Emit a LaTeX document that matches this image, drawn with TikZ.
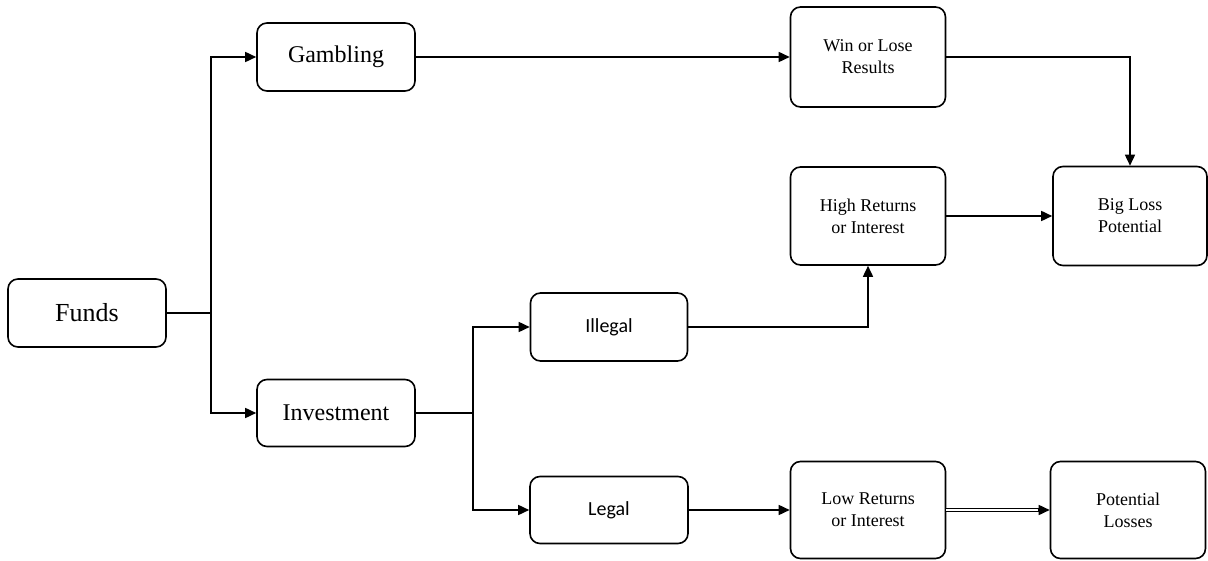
\documentclass[tikz,border=0pt]{standalone}
\usepackage{fontspec}
\setmainfont{Liberation Serif}
\newfontfamily\calfont{Carlito}
\usetikzlibrary{arrows.meta}
\begin{document}
\begin{tikzpicture}[x=1pt,y=-1pt,
  box/.style={draw,line width=1.6pt,rounded corners=10pt,align=center,inner sep=2pt},
  conn/.style={line width=1.6pt},
  arr/.style={conn,-{Triangle[length=11pt,width=10pt]}}]
\useasboundingbox (0,0) rectangle (1208,561);
\node[box,minimum width=158pt,minimum height=68pt,font=\fontsize{26}{30}\selectfont] (funds) at (87,313) {Funds};
\node[box,minimum width=158pt,minimum height=68pt,font=\fontsize{24}{28}\selectfont] (gamb) at (336,57) {Gambling};
\node[box,minimum width=158pt,minimum height=67pt,font=\fontsize{24}{28}\selectfont] (inv) at (336,413) {Investment};
\node[box,minimum width=155pt,minimum height=100pt,font=\fontsize{18}{22}\selectfont] (win) at (868,57) {Win or Lose\\Results};
\node[box,minimum width=155pt,minimum height=98pt,font=\fontsize{18}{22}\selectfont] (high) at (868,216) {High Returns\\or Interest};
\node[box,minimum width=154pt,minimum height=99pt,font=\fontsize{18}{22}\selectfont] (big) at (1130,216) {Big Loss\\Potential};
\node[box,minimum width=157pt,minimum height=68pt,font=\calfont\fontsize{20}{24}\selectfont] (illegal) at (609,327) {Illegal};
\node[box,minimum width=158pt,minimum height=67pt,font=\calfont\fontsize{20}{24}\selectfont] (legal) at (609,510) {Legal};
\node[box,minimum width=155pt,minimum height=97pt,font=\fontsize{18}{22}\selectfont] (low) at (868,510) {Low Returns\\or Interest};
\node[box,minimum width=155pt,minimum height=97pt,font=\fontsize{18}{22}\selectfont] (pot) at (1128,510) {Potential\\Losses};
\coordinate (s1) at (211,313);
\coordinate (s2) at (473,413);
\coordinate (d1) at ([xshift=-10pt]pot.west);
\draw[conn] (funds.east) -- (s1);
\draw[arr] (s1) |- (gamb.west);
\draw[arr] (s1) |- (inv.west);
\draw[arr] (gamb.east) -- (win.west);
\draw[arr] (win.east) -| (big.north);
\draw[arr] (high.east) -- (big.west);
\draw[conn] (inv.east) -- (s2);
\draw[arr] (s2) |- (illegal.west);
\draw[arr] (s2) |- (legal.west);
\draw[arr] (illegal.east) -| (high.south);
\draw[arr] (legal.east) -- (low.west);
\draw[line width=1.1pt,double,double distance=1.2pt] (low.east) -- (d1);
\draw[arr] ([xshift=-2pt]d1) -- (pot.west);
\end{tikzpicture}
\end{document}
